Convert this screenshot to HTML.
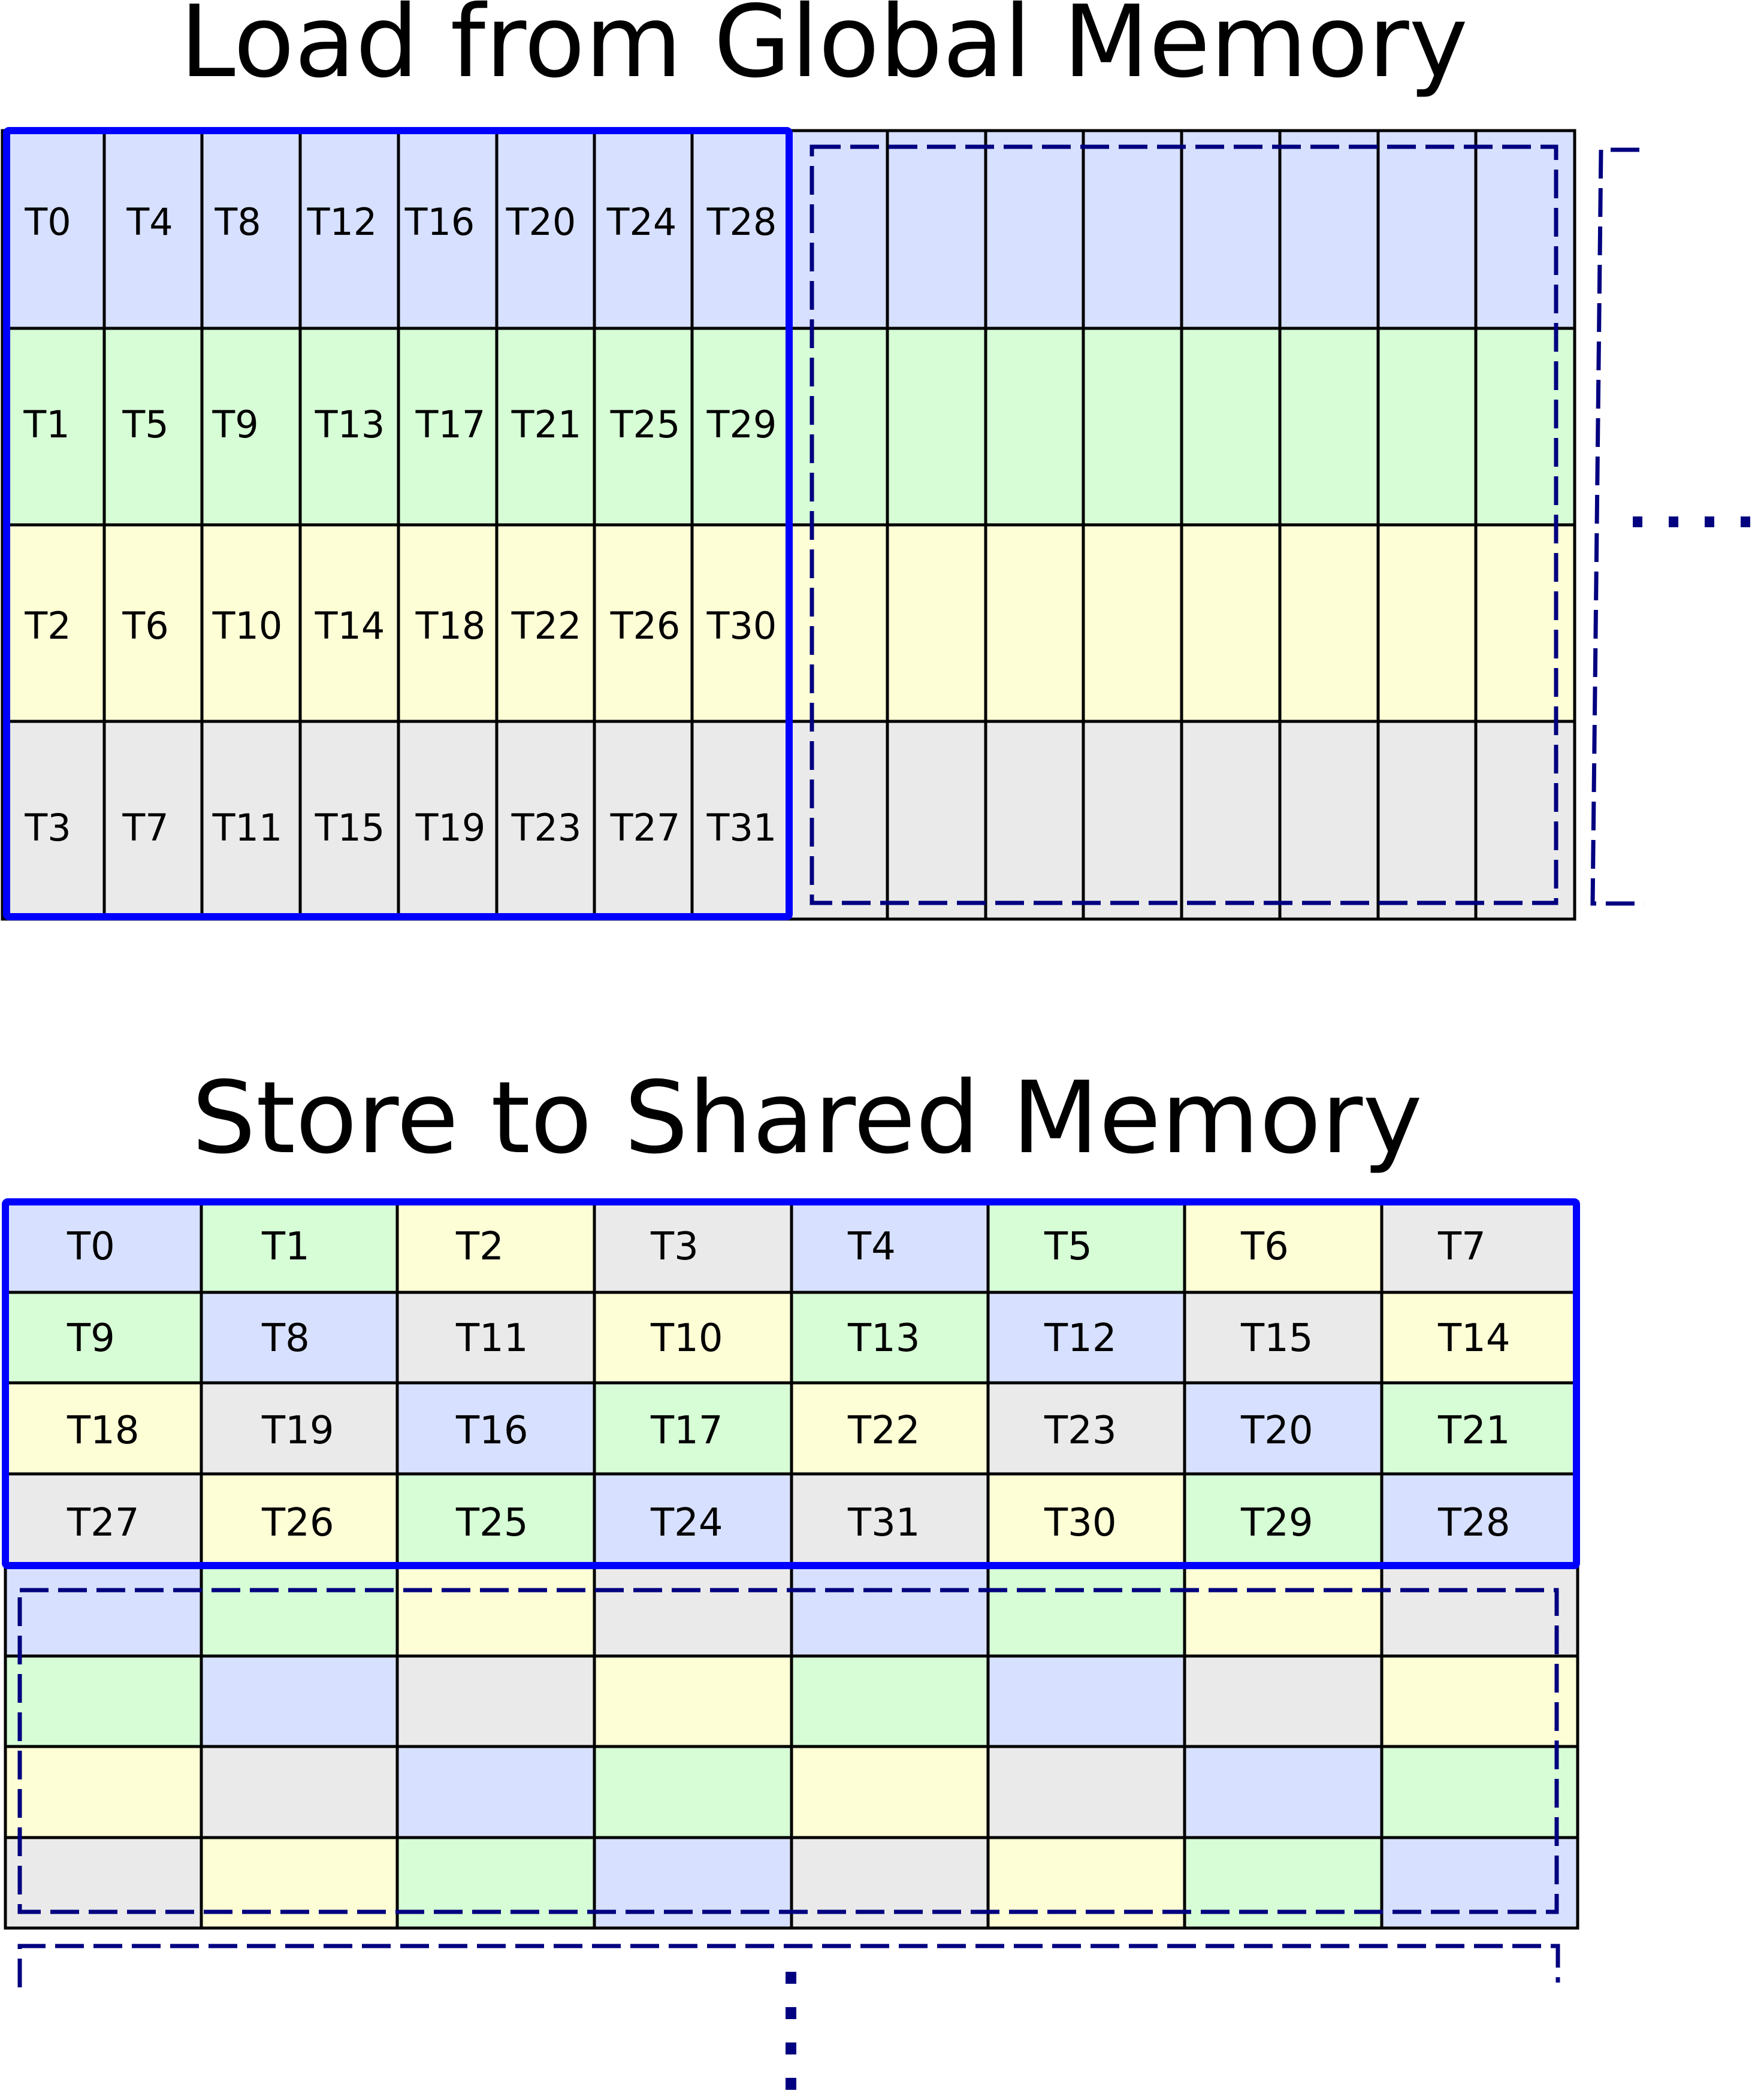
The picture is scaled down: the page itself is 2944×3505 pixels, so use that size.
<!DOCTYPE html>
<html><head><meta charset="utf-8"><style>html,body{margin:0;padding:0;background:#fff}svg{display:block}</style></head>
<body>
<svg width="2944" height="3505" viewBox="0 0 2944 3505" xmlns="http://www.w3.org/2000/svg" font-family="'DejaVu Sans','Liberation Sans',sans-serif">
<defs>
<g id="blk">
<rect x="9" y="0" width="328" height="152" fill="#D7E0FE"/><rect x="336" y="0" width="328" height="152" fill="#D6FDD6"/><rect x="663" y="0" width="330" height="152" fill="#FDFDD6"/><rect x="992" y="0" width="330" height="152" fill="#EAEAEA"/>
<rect x="9" y="152" width="328" height="152" fill="#D6FDD6"/><rect x="336" y="152" width="328" height="152" fill="#D7E0FE"/><rect x="663" y="152" width="330" height="152" fill="#EAEAEA"/><rect x="992" y="152" width="330" height="152" fill="#FDFDD6"/>
<rect x="9" y="304" width="328" height="152" fill="#FDFDD6"/><rect x="336" y="304" width="328" height="152" fill="#EAEAEA"/><rect x="663" y="304" width="330" height="152" fill="#D7E0FE"/><rect x="992" y="304" width="330" height="152" fill="#D6FDD6"/>
<rect x="9" y="456" width="328" height="152" fill="#EAEAEA"/><rect x="336" y="456" width="328" height="152" fill="#FDFDD6"/><rect x="663" y="456" width="330" height="152" fill="#D6FDD6"/><rect x="992" y="456" width="330" height="152" fill="#D7E0FE"/>
</g>
</defs>
<text x="300" y="127" font-size="166" textLength="2150" lengthAdjust="spacingAndGlyphs">Load from Global Memory</text>
<rect x="4" y="218" width="2624" height="330" fill="#D7E0FE"/>
<rect x="4" y="548" width="2624" height="328" fill="#D6FDD6"/>
<rect x="4" y="876" width="2624" height="328" fill="#FDFDD6"/>
<rect x="4" y="1204" width="2624" height="330" fill="#EAEAEA"/>
<g stroke="#000" stroke-width="5">
<rect x="4" y="218" width="2624" height="1316" fill="none"/>
<line x1="4" y1="548" x2="2628" y2="548"/><line x1="4" y1="876" x2="2628" y2="876"/><line x1="4" y1="1204" x2="2628" y2="1204"/>
<line x1="174" y1="218" x2="174" y2="1534"/><line x1="337" y1="218" x2="337" y2="1534"/><line x1="501" y1="218" x2="501" y2="1534"/><line x1="665" y1="218" x2="665" y2="1534"/><line x1="829" y1="218" x2="829" y2="1534"/><line x1="992" y1="218" x2="992" y2="1534"/><line x1="1155" y1="218" x2="1155" y2="1534"/>
<line x1="1481" y1="218" x2="1481" y2="1534"/><line x1="1645" y1="218" x2="1645" y2="1534"/><line x1="1808" y1="218" x2="1808" y2="1534"/><line x1="1972" y1="218" x2="1972" y2="1534"/><line x1="2136" y1="218" x2="2136" y2="1534"/><line x1="2300" y1="218" x2="2300" y2="1534"/><line x1="2463" y1="218" x2="2463" y2="1534"/>
</g>
<rect x="11" y="218" width="1306" height="1312" fill="none" stroke="#0000FF" stroke-width="12" rx="4"/>
<rect x="1355" y="245" width="1242" height="1262" fill="none" stroke="#000080" stroke-width="7" stroke-dasharray="48,16"/>
<path d="M2736,250 L2672,250 L2658,1508 L2744,1508" fill="none" stroke="#000080" stroke-width="7" stroke-dasharray="48,16"/>
<g fill="#000080"><rect x="2725" y="862" width="16" height="18"/><rect x="2785" y="862" width="16" height="18"/><rect x="2845" y="862" width="16" height="18"/><rect x="2905" y="862" width="16" height="18"/></g>
<g font-size="62" text-anchor="middle">
<text x="80" y="392">T0</text><text x="250" y="392">T4</text><text x="397" y="392">T8</text><text x="571" y="392">T12</text><text x="734" y="392">T16</text><text x="903" y="392">T20</text><text x="1071" y="392">T24</text><text x="1238" y="392">T28</text>
<text x="78" y="730">T1</text><text x="243" y="730">T5</text><text x="393" y="730">T9</text><text x="584" y="730">T13</text><text x="752" y="730">T17</text><text x="912" y="730">T21</text><text x="1077" y="730">T25</text><text x="1238" y="730">T29</text>
<text x="80" y="1066">T2</text><text x="243" y="1066">T6</text><text x="413" y="1066">T10</text><text x="584" y="1066">T14</text><text x="752" y="1066">T18</text><text x="912" y="1066">T22</text><text x="1077" y="1066">T26</text><text x="1238" y="1066">T30</text>
<text x="80" y="1403">T3</text><text x="243" y="1403">T7</text><text x="413" y="1403">T11</text><text x="584" y="1403">T15</text><text x="752" y="1403">T19</text><text x="912" y="1403">T23</text><text x="1077" y="1403">T27</text><text x="1238" y="1403">T31</text>
</g>
<text x="320" y="1923" font-size="166" textLength="2054" lengthAdjust="spacingAndGlyphs">Store to Shared Memory</text>
<use href="#blk" x="0" y="2006"/><use href="#blk" x="1312" y="2006"/>
<use href="#blk" x="0" y="2612"/><use href="#blk" x="1312" y="2612"/>
<g stroke="#000" stroke-width="5" fill="none">
<rect x="9" y="2006" width="2624" height="1212"/>
<line x1="9" y1="2157" x2="2633" y2="2157"/><line x1="9" y1="2308" x2="2633" y2="2308"/><line x1="9" y1="2460" x2="2633" y2="2460"/><line x1="9" y1="2613" x2="2633" y2="2613"/><line x1="9" y1="2764" x2="2633" y2="2764"/><line x1="9" y1="2915" x2="2633" y2="2915"/><line x1="9" y1="3067" x2="2633" y2="3067"/>
<line x1="336" y1="2006" x2="336" y2="3218"/><line x1="663" y1="2006" x2="663" y2="3218"/><line x1="992" y1="2006" x2="992" y2="3218"/><line x1="1321" y1="2006" x2="1321" y2="3218"/><line x1="1649" y1="2006" x2="1649" y2="3218"/><line x1="1977" y1="2006" x2="1977" y2="3218"/><line x1="2306" y1="2006" x2="2306" y2="3218"/>
</g>
<rect x="9" y="2006" width="2622" height="607" fill="none" stroke="#0000FF" stroke-width="12" rx="4"/>
<rect x="33" y="2654" width="2565" height="537" fill="none" stroke="#000080" stroke-width="7" stroke-dasharray="48,16"/>
<path d="M33,3317 L33,3248 L2600,3248 L2600,3309" fill="none" stroke="#000080" stroke-width="7" stroke-dasharray="48,16"/>
<g fill="#000080"><rect x="1311" y="3291" width="18" height="20"/><rect x="1311" y="3350" width="18" height="20"/><rect x="1311" y="3409" width="18" height="20"/><rect x="1311" y="3468" width="18" height="20"/></g>
<g font-size="64">
<text x="112" y="2102">T0</text><text x="437" y="2102">T1</text><text x="761" y="2102">T2</text><text x="1086" y="2102">T3</text><text x="1415" y="2102">T4</text><text x="1743" y="2102">T5</text><text x="2071" y="2102">T6</text><text x="2400" y="2102">T7</text>
<text x="112" y="2255">T9</text><text x="437" y="2255">T8</text><text x="761" y="2255">T11</text><text x="1086" y="2255">T10</text><text x="1415" y="2255">T13</text><text x="1743" y="2255">T12</text><text x="2071" y="2255">T15</text><text x="2400" y="2255">T14</text>
<text x="112" y="2409">T18</text><text x="437" y="2409">T19</text><text x="761" y="2409">T16</text><text x="1086" y="2409">T17</text><text x="1415" y="2409">T22</text><text x="1743" y="2409">T23</text><text x="2071" y="2409">T20</text><text x="2400" y="2409">T21</text>
<text x="112" y="2563">T27</text><text x="437" y="2563">T26</text><text x="761" y="2563">T25</text><text x="1086" y="2563">T24</text><text x="1415" y="2563">T31</text><text x="1743" y="2563">T30</text><text x="2071" y="2563">T29</text><text x="2400" y="2563">T28</text>
</g>
</svg>
</body></html>
